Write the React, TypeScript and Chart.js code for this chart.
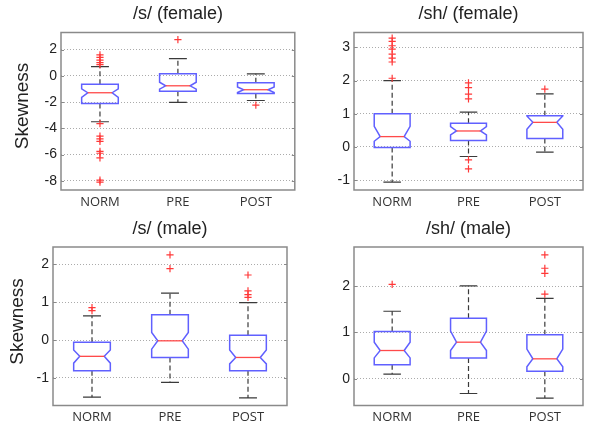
import React, { useEffect, useRef } from "react";
import { Chart, registerables } from "chart.js";
Chart.register(...registerables);

const categories = ["NORM", "PRE", "POST"];

// Panel 1: /s/ (female)
const sfTitle = "/s/ (female)";
const sfQ1 = [-2.1, -1.17, -1.34];
const sfQ3 = [-0.64, 0.15, -0.53];
const sfMed = [-1.29, -0.76, -1.06];
const sfNotchLo = [-1.65, -1.02, -1.27];
const sfNotchHi = [-0.99, -0.49, -0.85];
const sfWhiskLo = [-3.5, -2.03, -1.88];
const sfWhiskHi = [0.7, 1.31, 0.15];
const sfOutNorm = [1.6, 1.4, 1.2, 1.0, 0.85, -3.65, -4.6, -4.8, -5.0, -5.75, -5.9, -6.25, -7.95, -8.1];
const sfOutPre = [2.76];
const sfOutPost = [-2.23];
const sfTicks = [-8, -6, -4, -2, 0, 2];
const sfRange = [-8.7, 3.3];

// Panel 2: /sh/ (female)
const shfTitle = "/sh/ (female)";
const shfQ1 = [-0.02, 0.19, 0.25];
const shfQ3 = [1.0, 0.71, 0.94];
const shfMed = [0.31, 0.48, 0.74];
const shfNotchLo = [0.17, 0.36, 0.53];
const shfNotchHi = [0.62, 0.61, 0.93];
const shfWhiskLo = [-1.06, -0.29, -0.16];
const shfWhiskHi = [2.0, 1.05, 1.6];
const shfOutNorm = [3.28, 3.18, 3.05, 2.95, 2.8, 2.68, 2.56, 2.07];
const shfOutPre = [1.93, 1.79, 1.59, 1.45, -0.39, -0.66];
const shfOutPost = [1.74];
const shfTicks = [-1, 0, 1, 2, 3];
const shfRange = [-1.3, 3.45];

// Panel 3: /s/ (male)
const smTitle = "/s/ (male)";
const smQ1 = [-0.81, -0.46, -0.81];
const smQ3 = [-0.06, 0.67, 0.13];
const smMed = [-0.43, -0.02, -0.46];
const smNotchLo = [-0.61, -0.24, -0.63];
const smNotchHi = [-0.26, 0.2, -0.26];
const smWhiskLo = [-1.51, -1.12, -1.53];
const smWhiskHi = [0.64, 1.24, 0.99];
const smOutNorm = [0.86, 0.78];
const smOutPre = [2.25, 1.89];
const smOutPost = [1.72, 1.3, 1.2, 1.13];
const smTicks = [-1, 0, 1, 2];
const smRange = [-1.73, 2.46];

// Panel 4: /sh/ (male)
const shmTitle = "/sh/ (male)";
const shmQ1 = [0.3, 0.45, 0.16];
const shmQ3 = [1.02, 1.31, 0.95];
const shmMed = [0.61, 0.79, 0.43];
const shmNotchLo = [0.45, 0.61, 0.26];
const shmNotchHi = [0.79, 1.03, 0.64];
const shmWhiskLo = [0.1, -0.32, -0.42];
const shmWhiskHi = [1.46, 2.01, 1.74];
const shmOutNorm = [2.04];
const shmOutPre: number[] = [];
const shmOutPost = [2.68, 2.39, 2.28, 1.83];
const shmTicks = [0, 1, 2];
const shmRange = [-0.58, 2.85];

const yLabel = "Skewness";

type Stats = {
  title: string;
  q1: number[]; q3: number[]; med: number[];
  nLo: number[]; nHi: number[]; wLo: number[]; wHi: number[];
  outliers: number[][];
  ticks: number[]; range: number[];
  showYLabel: boolean;
};

const panels: Stats[] = [
  { title: sfTitle, q1: sfQ1, q3: sfQ3, med: sfMed, nLo: sfNotchLo, nHi: sfNotchHi, wLo: sfWhiskLo, wHi: sfWhiskHi, outliers: [sfOutNorm, sfOutPre, sfOutPost], ticks: sfTicks, range: sfRange, showYLabel: true },
  { title: shfTitle, q1: shfQ1, q3: shfQ3, med: shfMed, nLo: shfNotchLo, nHi: shfNotchHi, wLo: shfWhiskLo, wHi: shfWhiskHi, outliers: [shfOutNorm, shfOutPre, shfOutPost], ticks: shfTicks, range: shfRange, showYLabel: false },
  { title: smTitle, q1: smQ1, q3: smQ3, med: smMed, nLo: smNotchLo, nHi: smNotchHi, wLo: smWhiskLo, wHi: smWhiskHi, outliers: [smOutNorm, smOutPre, smOutPost], ticks: smTicks, range: smRange, showYLabel: true },
  { title: shmTitle, q1: shmQ1, q3: shmQ3, med: shmMed, nLo: shmNotchLo, nHi: shmNotchHi, wLo: shmWhiskLo, wHi: shmWhiskHi, outliers: [shmOutNorm, shmOutPre, shmOutPost], ticks: shmTicks, range: shmRange, showYLabel: false },
];

// layout (pixels)
const layouts = [
  { x: 0, y: 0, w: 300, h: 214, left: 61, top: 32.5, right: 295, bottom: 190, titleY: 14.5, yLabX: 23, yLabY: 106 },
  { x: 300, y: 0, w: 289, h: 214, left: 54, top: 32.5, right: 283, bottom: 190, titleY: 14.5, yLabX: 0, yLabY: 0 },
  { x: 0, y: 214, w: 300, h: 213, left: 53, top: 33, right: 287, bottom: 191.5, titleY: 15, yLabX: 17.5, yLabY: 107.5 },
  { x: 300, y: 214, w: 289, h: 213, left: 54, top: 33, right: 283, bottom: 191.5, titleY: 15, yLabX: 0, yLabY: 0 },
];

const BOX_HW = 0.235;
const NOTCH_HW = 0.157;
const CAP_HW = 0.115;

function Panel({ p, l }: { p: Stats; l: typeof layouts[number] }) {
  const ref = useRef<HTMLCanvasElement>(null);
  useEffect(() => {
    if (!ref.current) return;
    const boxPlugin = {
      id: "boxes",
      beforeDatasetsDraw(chart: any) {
        const ctx = chart.ctx;
        const xs = chart.scales.x;
        const ys = chart.scales.y;
        const X = (v: number) => xs.getPixelForValue(v);
        const Y = (v: number) => ys.getPixelForValue(v);
        ctx.save();
        for (let i = 0; i < categories.length; i++) {
          const c = i + 1;
          // whiskers
          ctx.strokeStyle = "#3a3a3a";
          ctx.lineWidth = 1.2;
          ctx.setLineDash([5, 3]);
          ctx.beginPath();
          ctx.moveTo(X(c), Y(p.q3[i]));
          ctx.lineTo(X(c), Y(p.wHi[i]));
          ctx.moveTo(X(c), Y(p.q1[i]));
          ctx.lineTo(X(c), Y(p.wLo[i]));
          ctx.stroke();
          ctx.setLineDash([]);
          ctx.beginPath();
          ctx.moveTo(X(c - CAP_HW), Y(p.wHi[i]));
          ctx.lineTo(X(c + CAP_HW), Y(p.wHi[i]));
          ctx.moveTo(X(c - CAP_HW), Y(p.wLo[i]));
          ctx.lineTo(X(c + CAP_HW), Y(p.wLo[i]));
          ctx.stroke();
          // notched box
          ctx.strokeStyle = "#6060ff";
          ctx.lineWidth = 1.5;
          ctx.beginPath();
          ctx.moveTo(X(c - BOX_HW), Y(p.q3[i]));
          ctx.lineTo(X(c - BOX_HW), Y(p.nHi[i]));
          ctx.lineTo(X(c - NOTCH_HW), Y(p.med[i]));
          ctx.lineTo(X(c - BOX_HW), Y(p.nLo[i]));
          ctx.lineTo(X(c - BOX_HW), Y(p.q1[i]));
          ctx.lineTo(X(c + BOX_HW), Y(p.q1[i]));
          ctx.lineTo(X(c + BOX_HW), Y(p.nLo[i]));
          ctx.lineTo(X(c + NOTCH_HW), Y(p.med[i]));
          ctx.lineTo(X(c + BOX_HW), Y(p.nHi[i]));
          ctx.lineTo(X(c + BOX_HW), Y(p.q3[i]));
          ctx.closePath();
          ctx.stroke();
          // median
          ctx.strokeStyle = "#ff4a4a";
          ctx.lineWidth = 1.3;
          ctx.beginPath();
          ctx.moveTo(X(c - NOTCH_HW), Y(p.med[i]));
          ctx.lineTo(X(c + NOTCH_HW), Y(p.med[i]));
          ctx.stroke();
        }
        ctx.restore();
      },
      afterDraw(chart: any) {
        const ctx = chart.ctx;
        const a = chart.chartArea;
        const ys = chart.scales.y;
        ctx.save();
        // frame
        ctx.strokeStyle = "#8a8a8a";
        ctx.lineWidth = 1.5;
        ctx.strokeRect(a.left, a.top, a.right - a.left, a.bottom - a.top);
        // inner tick marks
        ctx.lineWidth = 1;
        ctx.beginPath();
        for (const t of p.ticks) {
          const yy = Math.round(ys.getPixelForValue(t)) + 0.5;
          ctx.moveTo(a.left, yy);
          ctx.lineTo(a.left + 3, yy);
          ctx.moveTo(a.right - 3, yy);
          ctx.lineTo(a.right, yy);
        }
        ctx.stroke();
        // title
        ctx.fillStyle = "#222";
        ctx.font = "18px 'Liberation Sans', Arial, sans-serif";
        ctx.textAlign = "center";
        ctx.textBaseline = "middle";
        ctx.fillText(p.title, (a.left + a.right) / 2, l.titleY);
        // y label
        if (p.showYLabel) {
          ctx.translate(l.yLabX, l.yLabY);
          ctx.rotate(-Math.PI / 2);
          ctx.font = "19px 'Liberation Sans', Arial, sans-serif";
          ctx.fillText(yLabel, 0, 0);
        }
        ctx.restore();
      },
    };

    const datasets = categories.map((cat, i) => ({
      label: cat,
      data: p.outliers[i].map((v) => ({ x: i + 1, y: v })),
      pointStyle: "cross" as const,
      radius: 3.6,
      borderColor: "#ff3838",
      backgroundColor: "#ff3838",
      borderWidth: 1.2,
      showLine: false,
    }));

    const chart = new Chart(ref.current, {
      type: "scatter",
      data: { datasets },
      options: {
        animation: false,
        responsive: false,
        devicePixelRatio: 1,
        layout: { padding: { top: l.top, left: 0, bottom: 0, right: l.w - l.right } },
        plugins: { legend: { display: false }, tooltip: { enabled: false }, title: { display: false } },
        scales: {
          x: {
            type: "linear",
            min: 0.5,
            max: 3.5,
            afterBuildTicks: (s: any) => { s.ticks = categories.map((_, i) => ({ value: i + 1 })); },
            afterFit: (s: any) => { s.height = l.h - l.bottom; },
            grid: { display: false, drawTicks: false },
            border: { display: false },
            ticks: {
              autoSkip: false,
              maxRotation: 0,
              padding: 4,
              color: "#333",
              font: { family: "'Open Sans', sans-serif", size: 13 },
              callback: (v: any) => categories[Math.round(Number(v)) - 1] ?? "",
            },
          },
          y: {
            type: "linear",
            min: p.range[0],
            max: p.range[1],
            afterBuildTicks: (s: any) => { s.ticks = p.ticks.map((v) => ({ value: v })); },
            afterFit: (s: any) => { s.width = l.left; },
            grid: { color: "#ababab", lineWidth: 1, drawTicks: false },
            border: { display: false, dash: [1, 2] },
            ticks: {
              padding: 4,
              color: "#222",
              font: { family: "'Liberation Sans', Arial, sans-serif", size: 14 },
              callback: (v: any) => String(v),
            },
          },
        },
      },
      plugins: [boxPlugin],
    } as any);
    return () => chart.destroy();
  }, []);
  return (
    <canvas
      ref={ref}
      width={l.w}
      height={l.h}
      style={{ position: "absolute", left: l.x, top: l.y, width: l.w, height: l.h }}
    />
  );
}

export default function App() {
  return (
    <div style={{ position: "absolute", left: 0, top: 0, width: 589, height: 427, background: "#fff" }}>
      {panels.map((p, i) => (
        <Panel key={i} p={p} l={layouts[i]} />
      ))}
    </div>
  );
}
